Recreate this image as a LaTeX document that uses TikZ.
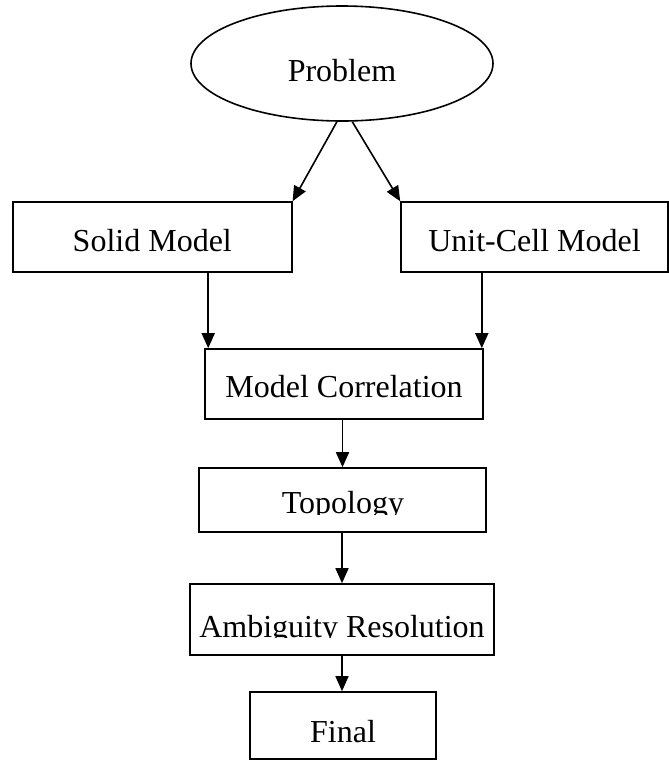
\documentclass[tikz,border=0pt]{standalone}
\usepackage{fontspec}
\setmainfont{Liberation Serif}
\usetikzlibrary{positioning, arrows.meta, shapes.geometric}

\begin{document}
\begin{tikzpicture}[
    x=1pt, y=-1pt,
    stage/.style={rectangle, draw, line width=1.6pt, inner sep=0pt, text height=28pt, text depth=0pt, font=\fontsize{32}{38}\selectfont},
    problemnode/.style={ellipse, draw, line width=1.6pt, inner sep=0pt, minimum width=302pt, minimum height=115pt, text height=35pt, text depth=0pt, font=\fontsize{32}{38}\selectfont},
    stagetext/.style={inner sep=0pt, anchor=base, font=\fontsize{32}{38}\selectfont},
    flow/.style={-{Triangle[length=15pt, width=13pt]}, line width=1.6pt}
]
\useasboundingbox (0,0) rectangle (669,761);

\node[problemnode] (problem) at (342, 63.5) {Problem};

\node[stage, minimum width=279pt, minimum height=70pt] (solid) at (152.3, 237) {Solid Model};
\node[stage, minimum width=267pt, minimum height=70pt] (unitcell) at (534.5, 237) {Unit-Cell Model};
\node[stage, minimum width=278pt, minimum height=70pt, text height=26pt] (correlation) at (344, 384) {Model Correlation};
\node[stage, minimum width=287pt, minimum height=64pt] (topology) at (342.5, 500) {};
\node[stage, minimum width=304pt, minimum height=71pt] (ambiguity) at (342, 619.5) {};
\node[stage, minimum width=186pt, minimum height=67pt, text height=34pt] (final) at (343, 725.5) {Final};

% text cut off at the box
\begin{scope}
    \clip (199, 468) rectangle (486, 514.5);
    \node[stagetext] (topologytext) at (343, 513.5) {Topology};
\end{scope}
\begin{scope}
    \clip (190, 584) rectangle (494, 637.5);
    \node[stagetext] (ambiguitytext) at (342, 637) {Ambiguity Resolution};
\end{scope}

\draw[flow] (problem.-95) -- (solid.north east);
\draw[flow] (problem.-80) -- (unitcell.north west);
\draw[flow] ([xshift=4pt]correlation.north west |- solid.south) -- ([xshift=4pt]correlation.north west);
\draw[flow] ([xshift=-2pt]correlation.north east |- unitcell.south) -- ([xshift=-2pt]correlation.north east);
\draw[flow] (topology.north |- correlation.south) -- (topology.north);
\draw[flow] (ambiguity.north |- topology.south) -- (ambiguity.north);
\draw[flow] (ambiguity.south) -- (ambiguity.south |- final.north);

\end{tikzpicture}
\end{document}
